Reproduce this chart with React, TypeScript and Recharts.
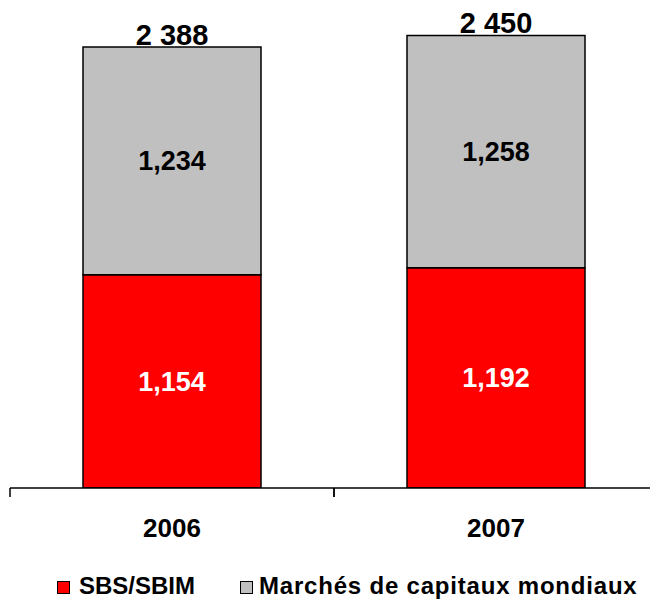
import React from 'react';
import { BarChart, Bar, XAxis, YAxis, LabelList } from 'recharts';

const years = ['2006', '2007'];
const sbsValues = [1154, 1192];
const marchesValues = [1234, 1258];
const totalLabels = ['2 388', '2 450'];

const data = years.map((year, i) => ({
  year,
  sbs: sbsValues[i],
  marches: marchesValues[i],
  total: totalLabels[i],
}));

const FONT = 'Liberation Sans, Arial, sans-serif';

const fmt = (v: number) => v.toLocaleString('en-US');

const legendItems = [
  { label: 'SBS/SBIM', color: '#FF0000', left: 57, gap: 9, spacing: 0 },
  { label: 'Marchés de capitaux mondiaux', color: '#C0C0C0', left: 240, gap: 6, spacing: 0.8 },
];

// label under the bar plus a tick mark on the edges of each category band
function YearTick(props: any) {
  const { x, y, payload } = props;
  const half = payload?.offset ?? 0;
  return (
    <g>
      <line x1={x - half} x2={x - half} y1={y} y2={y + 9} stroke="#000" strokeWidth={1.5} />
      <line x1={x + half} x2={x + half} y1={y} y2={y + 9} stroke="#000" strokeWidth={1.5} />
      <text x={x} y={y + 49} textAnchor="middle" fill="#000" fontSize={26} fontWeight={700} fontFamily={FONT}>
        {payload.value}
      </text>
    </g>
  );
}

export default function App() {
  return (
    <div style={{ position: 'absolute', left: 0, top: 0, width: 650, height: 599, overflow: 'hidden', background: '#fff' }}>
      <BarChart
        width={660}
        height={599}
        data={data}
        margin={{ top: 0, right: 2, bottom: 0, left: 10 }}
        barSize={178}
      >
        <XAxis
          dataKey="year"
          axisLine={{ stroke: '#000', strokeWidth: 1.5 }}
          tickLine={false}
          tickSize={0}
          tickMargin={0}
          height={111}
          tick={<YearTick />}
          interval={0}
        />
        <YAxis hide domain={[0, 2642]} allowDataOverflow />
        <Bar dataKey="sbs" stackId="a" fill="#FF0000" stroke="#000" strokeWidth={1.5} isAnimationActive={false}>
          <LabelList dataKey="sbs" position="center" formatter={(v: any) => fmt(Number(v))} style={{ fill: '#fff', fontSize: 27, fontWeight: 700, fontFamily: FONT }} />
        </Bar>
        <Bar dataKey="marches" stackId="a" fill="#C0C0C0" stroke="#000" strokeWidth={1.5} isAnimationActive={false}>
          <LabelList dataKey="marches" position="center" formatter={(v: any) => fmt(Number(v))} style={{ fill: '#000', fontSize: 27, fontWeight: 700, fontFamily: FONT }} />
          <LabelList dataKey="total" position="top" offset={2} style={{ fill: '#000', fontSize: 29, fontWeight: 700, fontFamily: FONT }} />
        </Bar>
      </BarChart>
      {legendItems.map((it) => (
        <div
          key={it.label}
          style={{ position: 'absolute', left: it.left, top: 572, display: 'flex', alignItems: 'center', fontFamily: FONT, fontWeight: 700, fontSize: 24, letterSpacing: it.spacing, color: '#000', whiteSpace: 'nowrap' }}
        >
          <span style={{ width: 11, height: 11, background: it.color, border: '1px solid #000', marginRight: it.gap, marginTop: 3, display: 'inline-block' }} />
          <span>{it.label}</span>
        </div>
      ))}
    </div>
  );
}
